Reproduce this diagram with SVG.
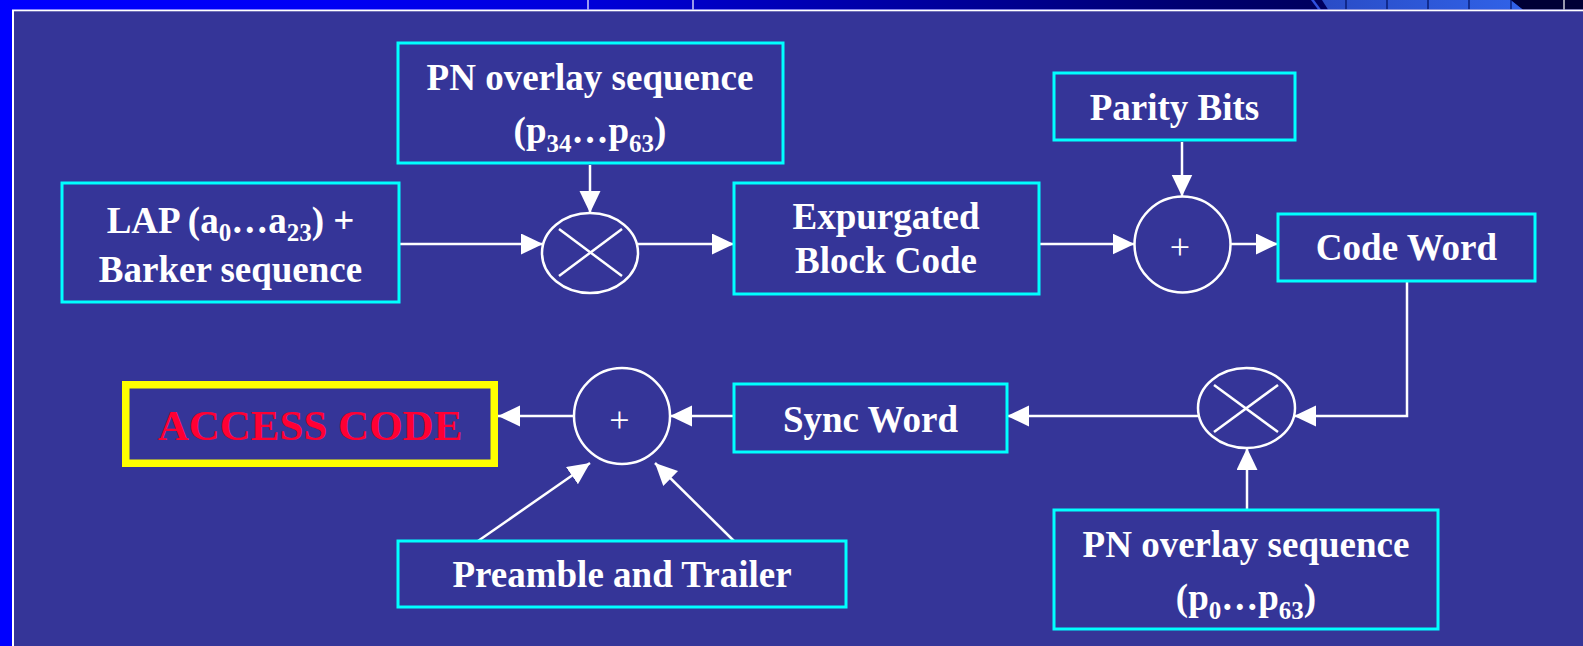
<svg xmlns="http://www.w3.org/2000/svg" width="1583" height="646" viewBox="0 0 1583 646">
  <defs>
    <linearGradient id="strip" x1="0" y1="0" x2="1320" y2="0" gradientUnits="userSpaceOnUse">
      <stop offset="0" stop-color="#0000FF"/>
      <stop offset="0.25" stop-color="#0000F5"/>
      <stop offset="0.45" stop-color="#0000D8"/>
      <stop offset="0.6" stop-color="#0000B5"/>
      <stop offset="0.9" stop-color="#000070"/>
      <stop offset="1" stop-color="#00005E"/>
    </linearGradient>
    <linearGradient id="light" x1="1322" y1="0" x2="1523" y2="0" gradientUnits="userSpaceOnUse">
      <stop offset="0" stop-color="#2A4CC6"/>
      <stop offset="1" stop-color="#3062E8"/>
    </linearGradient>
    <marker id="arr" markerUnits="userSpaceOnUse" markerWidth="23" markerHeight="22" refX="22" refY="10.5" orient="auto">
      <path d="M0,0 L22,10.5 L0,21 Z" fill="#FFFFFF"/>
    </marker>
    <style>
      .box { fill: none; stroke: #00FFFF; stroke-width: 3; }
      .t { font-family: "Liberation Serif", "Times New Roman", serif; font-weight: bold; font-size: 37px; fill: #FFFFFF; text-anchor: middle; }
      .sub { font-size: 25px; }
      .op { fill: none; stroke: #FFFFFF; stroke-width: 2.5; }
      .plus { font-family: "Liberation Serif", "Times New Roman", serif; font-size: 36px; fill: #FFFFFF; text-anchor: middle; }
      .c { fill: none; stroke: #FFFFFF; stroke-width: 2.5; }
      .ca { fill: none; stroke: #FFFFFF; stroke-width: 2.5; marker-end: url(#arr); }
    </style>
  </defs>

  <!-- background / frame -->
  <g id="frame">
    <rect x="0" y="0" width="1583" height="646" fill="#0000FF"/>
    <rect x="0" y="0" width="1583" height="9.5" fill="url(#strip)"/>
    <polygon points="1311,0 1314,0 1321,9.5 1318,9.5" fill="#3050E0"/>
    <polygon points="1322,0 1511,0 1523,9.5 1328,9.5" fill="url(#light)"/>
    <polygon points="1511,0 1583,0 1583,9.5 1523,9.5" fill="#000035"/>
    <g stroke="#001060" stroke-width="1.2">
      <line x1="1346" y1="0" x2="1346" y2="9.5"/>
      <line x1="1387" y1="0" x2="1387" y2="9.5"/>
      <line x1="1428" y1="0" x2="1428" y2="9.5"/>
      <line x1="1469" y1="0" x2="1469" y2="9.5"/>
      <line x1="1511" y1="0" x2="1511" y2="9.5"/>
    </g>
    <g stroke="#FFFFFF" stroke-width="1.2">
      <line x1="588" y1="0" x2="588" y2="9.5"/>
      <line x1="693" y1="0" x2="693" y2="9.5"/>
      <line x1="1564" y1="0" x2="1564" y2="9.5"/>
    </g>
    <rect x="12" y="9.5" width="1571" height="636.5" fill="#FFFFFF"/>
    <rect x="14" y="11.3" width="1569" height="634.7" fill="#353598"/>
  </g>

  <!-- connectors -->
  <g id="connectors">
    <line class="ca" x1="399" y1="244" x2="543" y2="244"/>
    <line class="ca" x1="590" y1="165" x2="590" y2="213"/>
    <line class="ca" x1="637" y1="244" x2="734" y2="244"/>
    <line class="ca" x1="1039" y1="244" x2="1134.5" y2="244"/>
    <line class="ca" x1="1182" y1="142" x2="1182" y2="196.5"/>
    <line class="ca" x1="1231" y1="244" x2="1278" y2="244"/>
    <polyline class="ca" points="1407,281 1407,416 1294,416"/>
    <line class="ca" x1="1247" y1="510" x2="1247" y2="448"/>
    <line class="ca" x1="1198" y1="416" x2="1007" y2="416"/>
    <line class="ca" x1="734" y1="416" x2="670" y2="416"/>
    <line class="ca" x1="574" y1="416" x2="498" y2="416"/>
    <line class="ca" x1="478" y1="541" x2="590" y2="463"/>
    <line class="ca" x1="734" y1="541" x2="655" y2="463"/>
  </g>

  <!-- nodes -->
  <g id="lap">
    <rect class="box" x="62" y="183" width="337" height="119"/>
    <text class="t" x="230.5" y="233">LAP (a<tspan class="sub" dy="8">0</tspan><tspan dy="-8">…a</tspan><tspan class="sub" dy="8">23</tspan><tspan dy="-8">) +</tspan></text>
    <text class="t" x="230.5" y="282">Barker sequence</text>
  </g>

  <g id="pn-top">
    <rect class="box" x="398" y="43" width="385" height="120"/>
    <text class="t" x="590" y="90">PN overlay sequence</text>
    <text class="t" x="590" y="143">(p<tspan class="sub" dy="9">34</tspan><tspan dy="-9">…p</tspan><tspan class="sub" dy="9">63</tspan><tspan dy="-9">)</tspan></text>
  </g>

  <g id="mult1">
    <ellipse class="op" cx="590" cy="253" rx="48" ry="40"/>
    <line class="op" x1="559" y1="229" x2="622" y2="276"/>
    <line class="op" x1="559" y1="276" x2="622" y2="229"/>
  </g>

  <g id="expurgated">
    <rect class="box" x="734" y="183" width="305" height="111"/>
    <text class="t" x="886" y="229">Expurgated</text>
    <text class="t" x="886" y="273">Block Code</text>
  </g>

  <g id="parity">
    <rect class="box" x="1054" y="73" width="241" height="67"/>
    <text class="t" x="1174.5" y="120">Parity Bits</text>
  </g>

  <g id="adder1">
    <circle class="op" cx="1182.5" cy="244.5" r="48"/>
    <text class="plus" x="1180" y="258.5">+</text>
  </g>

  <g id="codeword">
    <rect class="box" x="1278" y="214" width="257" height="67"/>
    <text class="t" x="1406.5" y="260">Code Word</text>
  </g>

  <g id="mult2">
    <ellipse class="op" cx="1246.5" cy="408" rx="48.5" ry="40"/>
    <line class="op" x1="1214" y1="385" x2="1278" y2="432"/>
    <line class="op" x1="1214" y1="432" x2="1278" y2="385"/>
  </g>

  <g id="pn-bottom">
    <rect class="box" x="1054" y="510" width="384" height="119"/>
    <text class="t" x="1246" y="557">PN overlay sequence</text>
    <text class="t" x="1246" y="610">(p<tspan class="sub" dy="9">0</tspan><tspan dy="-9">…p</tspan><tspan class="sub" dy="9">63</tspan><tspan dy="-9">)</tspan></text>
  </g>

  <g id="syncword">
    <rect class="box" x="734" y="384" width="273" height="68"/>
    <text class="t" x="870.5" y="432">Sync Word</text>
  </g>

  <g id="adder2">
    <circle class="op" cx="622" cy="416" r="48"/>
    <text class="plus" x="619.5" y="431.5">+</text>
  </g>

  <g id="accesscode">
    <rect x="125.75" y="384.75" width="368.5" height="78.5" fill="none" stroke="#FFFF00" stroke-width="7.5"/>
    <text x="310" y="440" font-family="'Liberation Serif', 'Times New Roman', serif" font-weight="bold" font-size="43" fill="#FF0033" text-anchor="middle">ACCESS CODE</text>
  </g>

  <g id="preamble">
    <rect class="box" x="398" y="541" width="448" height="66"/>
    <text class="t" x="622" y="587">Preamble and Trailer</text>
  </g>
</svg>
